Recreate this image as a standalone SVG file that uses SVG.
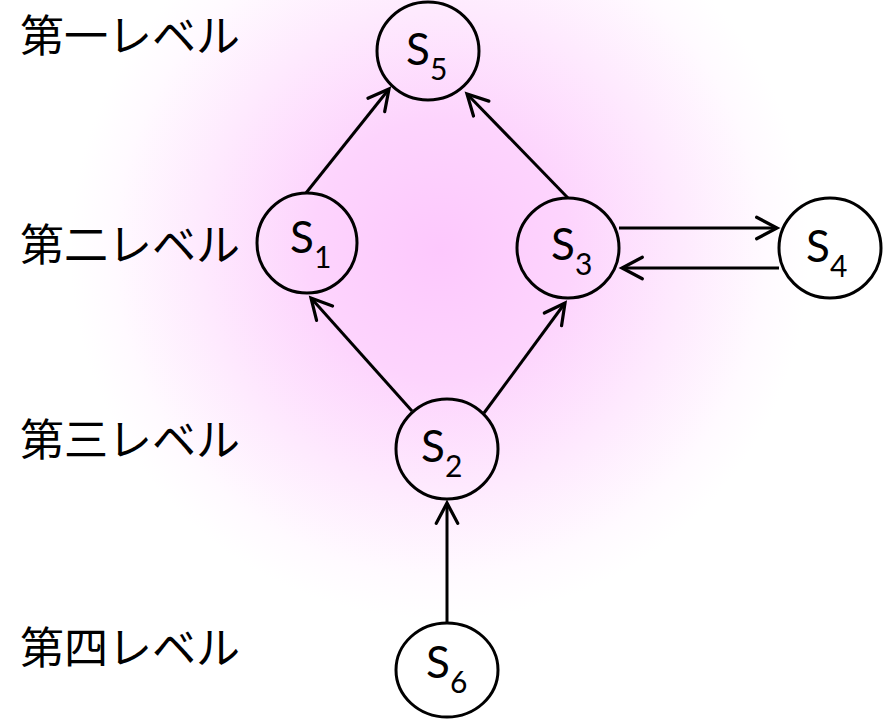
<svg xmlns="http://www.w3.org/2000/svg" width="888" height="721" viewBox="0 0 888 721">
  <defs>
    <radialGradient id="glow" cx="440" cy="250" r="370" gradientUnits="userSpaceOnUse">
      <stop offset="0" stop-color="#fdc8fd"/>
      <stop offset="0.35" stop-color="#fdd4fd"/>
      <stop offset="0.65" stop-color="#feeafe"/>
      <stop offset="0.88" stop-color="#fffaff"/>
      <stop offset="1" stop-color="#ffffff"/>
    </radialGradient>
    <marker id="head" markerUnits="userSpaceOnUse" markerWidth="30" markerHeight="30" viewBox="-24 -14 28 28" refX="0" refY="0" orient="auto" overflow="visible">
      <path d="M -19 -10 L 0 0 L -19 10" fill="none" stroke="#000" stroke-width="3" stroke-linecap="round" stroke-linejoin="miter"/>
    </marker>
    <style>
      .node { fill: none; stroke: #000; stroke-width: 3; }
      .lbl { font-family: Lato, "Open Sans", "Liberation Sans", sans-serif; font-size: 44px; fill: #000; }
      .sub { font-size: 30px; }
      .lvl { font-family: "Noto Sans CJK JP", "Noto Sans", sans-serif; font-size: 44px; fill: #000; }
      .edge { fill: none; stroke: #000; stroke-width: 3; marker-end: url(#head); }
    </style>
  </defs>

  <rect x="0" y="0" width="888" height="721" fill="#ffffff"/>
  <rect x="0" y="0" width="888" height="721" fill="url(#glow)"/>

  <!-- level captions -->
  <g id="levels">
    <text class="lvl" x="20" y="52">第一レベル</text>
    <text class="lvl" x="20" y="261">第二レベル</text>
    <text class="lvl" x="20" y="456">第三レベル</text>
    <text class="lvl" x="20" y="664">第四レベル</text>
  </g>

  <!-- connectors -->
  <g id="edges">
    <line class="edge" x1="306" y1="193" x2="389" y2="89"/>
    <line class="edge" x1="568" y1="198" x2="467" y2="94"/>
    <line class="edge" x1="412" y1="411" x2="311" y2="298"/>
    <line class="edge" x1="484" y1="413" x2="565" y2="303"/>
    <line class="edge" x1="447" y1="622" x2="447" y2="503"/>
    <line class="edge" x1="619" y1="228" x2="777" y2="228"/>
    <line class="edge" x1="779" y1="268" x2="622" y2="268"/>
  </g>

  <!-- nodes -->
  <g id="s5">
    <ellipse class="node" cx="428" cy="51" rx="51" ry="49"/>
    <text class="lbl" x="406" y="65">S<tspan class="sub" dy="15">5</tspan></text>
  </g>
  <g id="s1">
    <ellipse class="node" cx="307" cy="243" rx="50" ry="50"/>
    <text class="lbl" x="290" y="253">S<tspan class="sub" dy="15">1</tspan></text>
  </g>
  <g id="s3">
    <ellipse class="node" cx="568" cy="248" rx="51" ry="50"/>
    <text class="lbl" x="551" y="260">S<tspan class="sub" dy="15">3</tspan></text>
  </g>
  <g id="s4">
    <ellipse class="node" cx="830" cy="248" rx="51" ry="50"/>
    <text class="lbl" x="806" y="262">S<tspan class="sub" dy="15">4</tspan></text>
  </g>
  <g id="s2">
    <ellipse class="node" cx="447" cy="449" rx="51" ry="50"/>
    <text class="lbl" x="421" y="462">S<tspan class="sub" dy="15">2</tspan></text>
  </g>
  <g id="s6">
    <ellipse class="node" cx="447" cy="670" rx="51" ry="47"/>
    <text class="lbl" x="426" y="678">S<tspan class="sub" dy="15">6</tspan></text>
  </g>
</svg>
